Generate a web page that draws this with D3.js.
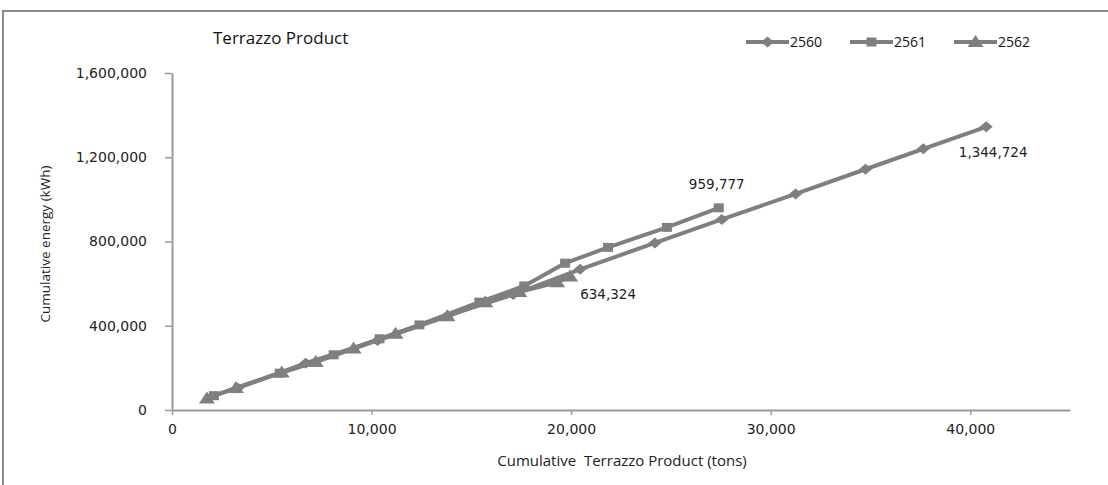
<!DOCTYPE html>
<html>
<head>
<meta charset="utf-8">
<script src="https://cdn.jsdelivr.net/npm/d3@7"></script>
<style>
  html, body { margin: 0; padding: 0; background: #fff; }
  svg { display: block; }
</style>
</head>
<body>
<svg id="chart" width="1108" height="485"></svg>
<script>
// ---- data ----
const seriesNames = ["2560", "2561", "2562"];
const x2560 = [3300, 6700, 10300, 13800, 17100, 20450, 24200, 27550, 31250, 34750, 37650, 40800];
const y2560 = [105000, 222000, 330000, 448000, 548000, 668000, 793000, 905000, 1026000, 1143000, 1240000, 1344724];
const x2561 = [2100, 5400, 8100, 10400, 12400, 15400, 17650, 19700, 21850, 24800, 27400];
const y2561 = [68000, 175000, 262000, 338000, 404000, 512000, 589000, 697000, 772000, 867000, 959777];
const x2562 = [1750, 3200, 5500, 7200, 9100, 11200, 13800, 15700, 17400, 19300, 19950];
const y2562 = [55000, 105000, 178000, 228000, 292000, 362000, 445000, 512000, 560000, 606000, 634324];
const xTicks = [0, 10000, 20000, 30000, 40000];
const yTicks = [0, 400000, 800000, 1200000, 1600000];
const endLabels = ["1,344,724", "959,777", "634,324"];

const svg = d3.select("#chart");
const fmt = d3.format(",");
const gray = "#7f7f7f";
const numFont = "DejaVu Sans, Verdana, sans-serif";
const txtFont = "Open Sans, sans-serif";

// frame
svg.append("rect").attr("x", 3).attr("y", 11).attr("width", 1120).attr("height", 480)
  .attr("fill", "none").attr("stroke", "#8a8a8a").attr("stroke-width", 2);

const x = d3.scaleLinear().domain([0, 45000]).range([172, 1070]);
const y = d3.scaleLinear().domain([0, 1600000]).range([410, 73]);

// axes
const xAxis = svg.append("g").attr("transform", "translate(0,410)")
  .call(d3.axisBottom(x).tickValues(xTicks).tickFormat(fmt).tickSize(5).tickSizeOuter(0).tickPadding(9));
const yAxis = svg.append("g").attr("transform", "translate(172,0)")
  .call(d3.axisLeft(y).tickValues(yTicks).tickFormat(fmt).tickSize(7).tickSizeOuter(0).tickPadding(18));
[xAxis, yAxis].forEach(a => {
  a.select(".domain").attr("stroke", "#9a9a9a").attr("stroke-width", 2);
  a.selectAll(".tick line").attr("stroke", "#9a9a9a").attr("stroke-width", 1.5);
  a.selectAll("text").attr("fill", "#222").style("font-family", numFont).style("font-size", "14px");
});

// axis titles
svg.append("text").attr("x", 622).attr("y", 466).attr("text-anchor", "middle")
  .attr("xml:space", "preserve").style("white-space", "pre")
  .style("font-family", txtFont).style("font-size", "15px").attr("fill", "#222")
  .text("Cumulative  Terrazzo Product (tons)");
svg.append("text").attr("transform", "translate(50,244) rotate(-90)").attr("text-anchor", "middle")
  .style("font-family", txtFont).style("font-size", "13.5px").attr("fill", "#222")
  .text("Cumulative energy (kWh)");

// title
svg.append("text").attr("x", 213).attr("y", 44)
  .style("font-family", txtFont).style("font-size", "17px").attr("fill", "#111")
  .text("Terrazzo Product");

// custom marker shapes
const diamond = { draw(ctx, s) { const w = 6.5, h = 5.5; ctx.moveTo(0, -h); ctx.lineTo(w, 0); ctx.lineTo(0, h); ctx.lineTo(-w, 0); ctx.closePath(); } };
const square = { draw(ctx, s) { ctx.rect(-5, -4.5, 10, 9); } };
const triangle = { draw(ctx, s) { ctx.moveTo(0, -7); ctx.lineTo(8, 5); ctx.lineTo(-8, 5); ctx.closePath(); } };

const data = [
  { name: seriesNames[0], xs: x2560, ys: y2560, sym: diamond },
  { name: seriesNames[1], xs: x2561, ys: y2561, sym: square },
  { name: seriesNames[2], xs: x2562, ys: y2562, sym: triangle }
];

const line = d3.line().x(d => x(d[0])).y(d => y(d[1]));

data.forEach(s => {
  const pts = s.xs.map((v, i) => [v, s.ys[i]]);
  svg.append("path").datum(pts).attr("d", line)
    .attr("fill", "none").attr("stroke", gray).attr("stroke-width", 4);
  svg.append("g").selectAll("path").data(pts).join("path")
    .attr("transform", d => `translate(${x(d[0])},${y(d[1])})`)
    .attr("d", d3.symbol().type(s.sym))
    .attr("fill", gray);
});

// end labels
const lbl = [
  { s: 0, dx: 7, dy: 30 },
  { s: 1, dx: -2, dy: -19 },
  { s: 2, dx: 38, dy: 23 }
];
lbl.forEach((l, i) => {
  const s = data[l.s];
  const n = s.xs.length - 1;
  svg.append("text").attr("x", x(s.xs[n]) + l.dx).attr("y", y(s.ys[n]) + l.dy)
    .attr("text-anchor", "middle")
    .style("font-family", numFont).style("font-size", "13.5px").attr("fill", "#222")
    .text(endLabels[i]);
});

// legend
const legX = [746, 850, 954];
data.forEach((s, i) => {
  const g = svg.append("g").attr("transform", `translate(${legX[i]},42)`);
  g.append("line").attr("x1", 0).attr("x2", 43).attr("y1", 0).attr("y2", 0)
    .attr("stroke", gray).attr("stroke-width", 4);
  g.append("path").attr("transform", "translate(21.5,0)")
    .attr("d", d3.symbol().type(s.sym)).attr("fill", gray);
  g.append("text").attr("x", 44).attr("y", 5)
    .style("font-family", txtFont).style("font-size", "14px").attr("fill", "#111")
    .text(s.name);
});
</script>
</body>
</html>
